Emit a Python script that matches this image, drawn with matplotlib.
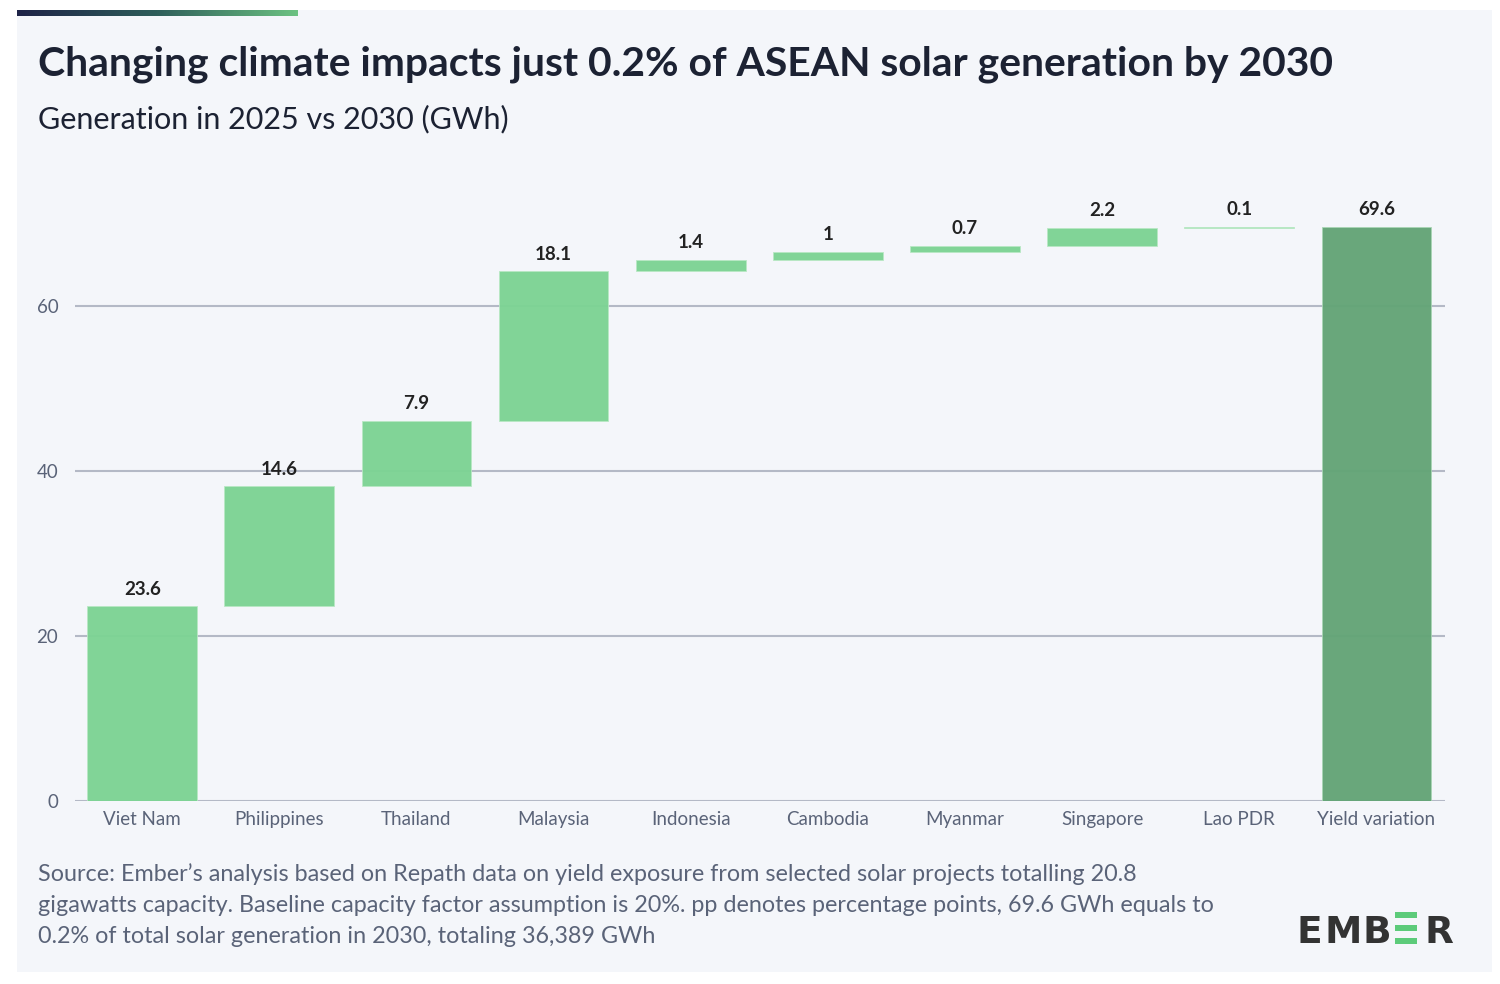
import matplotlib.pyplot as plt
import matplotlib.patches as patches
from matplotlib.colors import LinearSegmentedColormap
import numpy as np

categories = ["Viet Nam", "Philippines", "Thailand", "Malaysia", "Indonesia",
              "Cambodia", "Myanmar", "Singapore", "Lao PDR", "Yield variation"]
changes = [23.6, 14.6, 7.9, 18.1, 1.4, 1.0, 0.7, 2.2, 0.1]
total = 69.6
labels = ["23.6", "14.6", "7.9", "18.1", "1.4", "1", "0.7", "2.2", "0.1", "69.6"]
yticks = [0, 20, 40, 60]

plt.rcParams['font.family'] = ['Lato', 'DejaVu Sans']

W, H = 1500, 984
fig = plt.figure(figsize=(15, 9.84), dpi=100)
fig.patch.set_facecolor('white')

def fx(px):
    return px / W

def fy(py):
    return 1 - py / H

# panel background
fig.patches.append(patches.Rectangle((fx(17), fy(972)), fx(1492) - fx(17), fy(10) - fy(972),
                                     transform=fig.transFigure, facecolor='#f4f6fa',
                                     edgecolor='none', zorder=-5))
# gradient accent bar
grad = np.linspace(0, 1, 256).reshape(1, -1)
cmap = LinearSegmentedColormap.from_list('acc', ['#1e2347', '#2e5e5a', '#6cc282'])
axg = fig.add_axes([fx(17), fy(16), fx(298) - fx(17), fy(10) - fy(16)])
axg.imshow(grad, aspect='auto', cmap=cmap)
axg.axis('off')

# main axes
ax = fig.add_axes([fx(75), fy(801), fx(1445) - fx(75), fy(190) - fy(801)])
ax.set_facecolor('none')
ymax = 611 / 8.25
ax.set_ylim(0, ymax)
ax.set_xlim(-0.49, 9.5)

x = np.arange(len(categories))
bottoms = np.concatenate([[0], np.cumsum(changes)[:-1]])
light = '#7dd394'
dark = '#64a577'
ax.bar(x[:-1], changes, bottom=bottoms, width=0.8, color=light, alpha=0.97,
       edgecolor='#b8e8c4', linewidth=0.6, zorder=3)
ax.bar(x[-1], total, width=0.8, color=dark, alpha=0.97,
       edgecolor='#a8d6b4', linewidth=0.6, zorder=3)

tops = list(np.cumsum(changes)) + [total]
for xi, t, lab in zip(x, tops, labels):
    ax.annotate(lab, (xi, t), xytext=(0, 6), textcoords='offset points',
                ha='center', va='bottom', fontsize=13.5, fontweight='bold', color='#222222')

for yt in yticks:
    ax.axhline(yt, color='#b4b9c6', linewidth=1.5, zorder=1)

ax.set_yticks(yticks)
ax.set_yticklabels([str(v) for v in yticks])
ax.set_xticks(x)
ax.set_xticklabels(categories)
ax.tick_params(axis='both', length=0, labelsize=13.5, labelcolor='#5a6378')
ax.tick_params(axis='y', pad=12)
ax.tick_params(axis='x', pad=7)
for s in ax.spines.values():
    s.set_visible(False)

# titles
fig.text(fx(38), fy(64), "Changing climate impacts just 0.2% of ASEAN solar generation by 2030",
         fontsize=29.4, fontweight='bold', color='#1c2233', va='center', ha='left')
fig.text(fx(38), fy(119), "Generation in 2025 vs 2030 (GWh)",
         fontsize=22, color='#1c2233', va='center', ha='left')

source = ("Source: Ember\u2019s analysis based on Repath data on yield exposure from selected solar projects totalling 20.8\n"
          "gigawatts capacity. Baseline capacity factor assumption is 20%. pp denotes percentage points, 69.6 GWh equals to\n"
          "0.2% of total solar generation in 2030, totaling 36,389 GWh")
fig.text(fx(38), fy(863), source, fontsize=16.8, color='#5a6378', va='top', ha='left',
         linespacing=1.58)

# logo
logo_color = '#333333'
for ch, px in [("E", 1297), ("M", 1325), ("B", 1363), ("R", 1424)]:
    fig.text(fx(px), fy(943), ch, fontsize=27, fontweight='black', color=logo_color,
             ha='left', va='baseline', family=['DejaVu Sans'])
for py in [912, 925, 938]:
    fig.patches.append(patches.Rectangle((fx(1395), fy(py + 5.5)), fx(22), fy(0) - fy(5.5),
                                         transform=fig.transFigure, facecolor='#5ccb7a',
                                         edgecolor='none', zorder=5))

fig.savefig('out.png', dpi=100, facecolor='white')
